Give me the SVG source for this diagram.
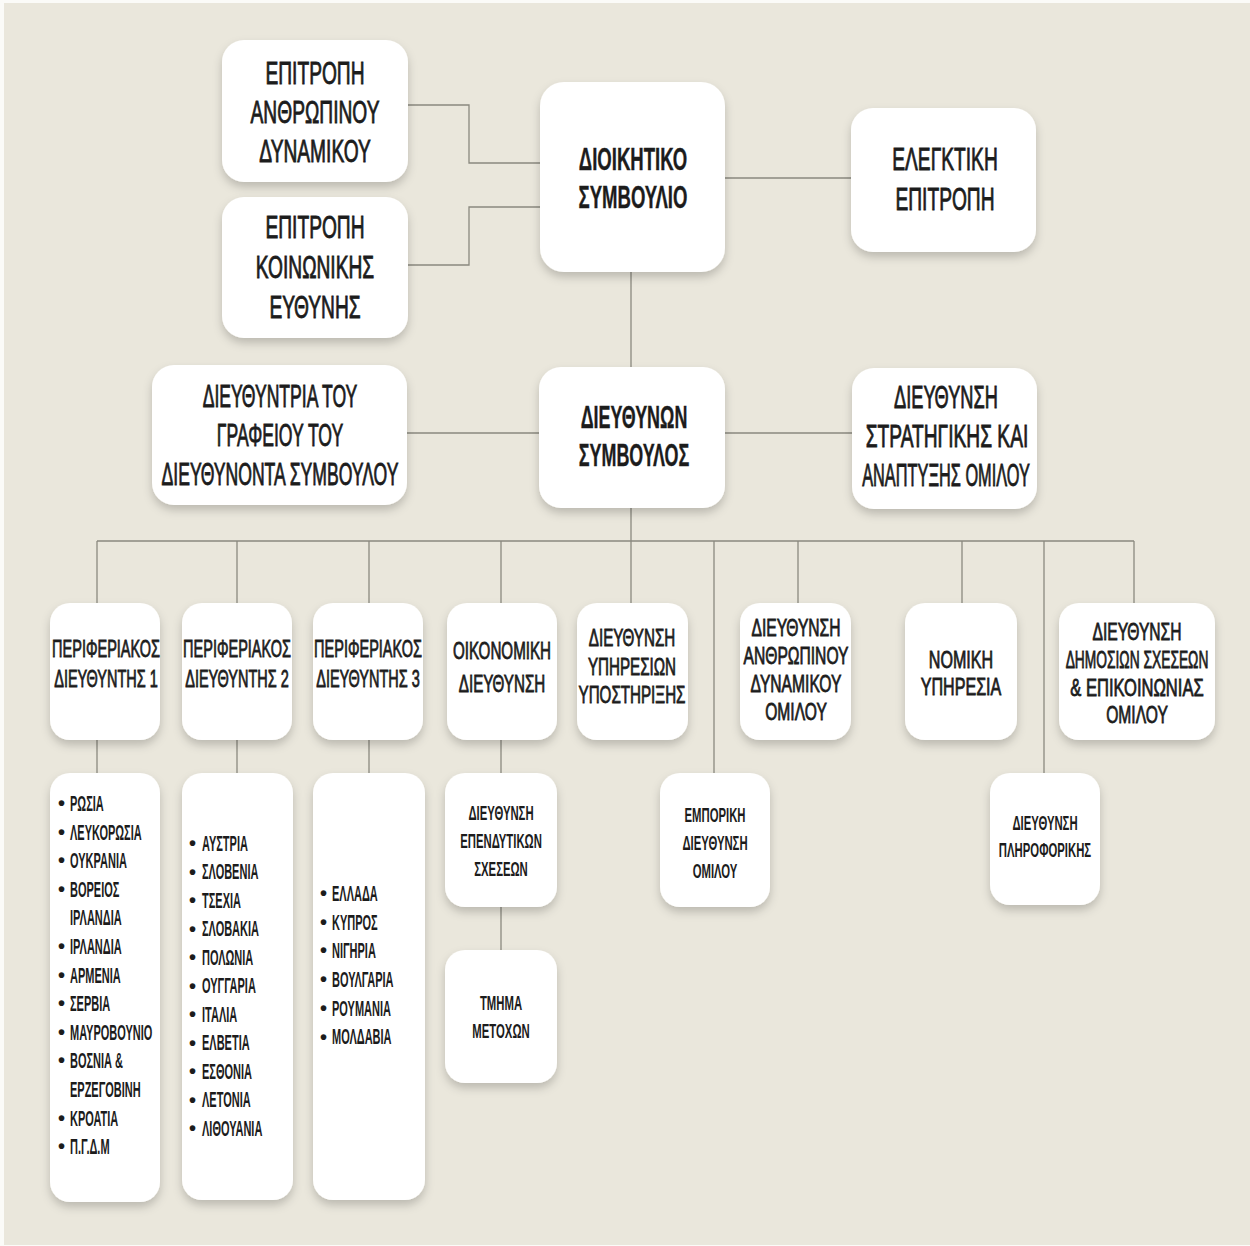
<svg xmlns="http://www.w3.org/2000/svg" width="1250" height="1246" viewBox="0 0 1250 1246">
<defs>
<filter id="sh" x="-20%" y="-20%" width="140%" height="150%">
<feDropShadow dx="0" dy="5" stdDeviation="5" flood-color="#000" flood-opacity="0.2"/>
</filter>
<style>
.bx{fill:#fff;filter:url(#sh)}
.ln{stroke:#8a897f;stroke-width:1.3;fill:none}
text{font-family:"Liberation Sans",Arial,sans-serif;fill:#1c1c1c}
.t1{font-size:32px;text-anchor:middle;stroke:#1c1c1c;stroke-width:0.9}
.t1b{font-size:32px;text-anchor:middle;font-weight:bold;stroke:#1c1c1c;stroke-width:0.4}
.t2{font-size:23px;text-anchor:middle;stroke:#1c1c1c;stroke-width:0.8}
.t3{font-size:21px;text-anchor:middle;font-weight:bold}
.li{font-size:22px;font-weight:bold}
.bu{font-size:20px;font-weight:bold}
</style>
</defs>
<rect x="0" y="0" width="1250" height="1246" fill="#fbfbf8"/>
<rect x="4" y="3" width="1246" height="1242" fill="#eae7dc"/>

<g id="connectors" class="ln">
<polyline points="408,105 469,105 469,163 540,163"/>
<polyline points="408,265 469,265 469,207 540,207"/>
<line x1="725" y1="178" x2="851" y2="178"/>
<line x1="631" y1="272" x2="631" y2="367"/>
<line x1="407" y1="433" x2="539" y2="433"/>
<line x1="725" y1="433" x2="852" y2="433"/>
<line x1="631" y1="508" x2="631" y2="541"/>
<line x1="97" y1="541" x2="1134" y2="541"/>
<line x1="97" y1="541" x2="97" y2="603"/>
<line x1="237" y1="541" x2="237" y2="603"/>
<line x1="369" y1="541" x2="369" y2="603"/>
<line x1="501" y1="541" x2="501" y2="603"/>
<line x1="631" y1="541" x2="631" y2="603"/>
<line x1="714" y1="541" x2="714" y2="773"/>
<line x1="798" y1="541" x2="798" y2="603"/>
<line x1="962" y1="541" x2="962" y2="603"/>
<line x1="1044" y1="541" x2="1044" y2="773"/>
<line x1="1134" y1="541" x2="1134" y2="603"/>
<line x1="97" y1="740" x2="97" y2="773"/>
<line x1="237" y1="740" x2="237" y2="773"/>
<line x1="369" y1="740" x2="369" y2="773"/>
<line x1="501" y1="740" x2="501" y2="773"/>
<line x1="501" y1="907" x2="501" y2="950"/>
</g>

<g id="epitropi-anthropinou">
<rect class="bx" x="222" y="40" width="186" height="142" rx="22"/>
<text class="t1" transform="translate(315,0) scale(0.6,1)"><tspan x="0" y="84">ΕΠΙΤΡΟΠΗ</tspan><tspan x="0" y="123">ΑΝΘΡΩΠΙΝΟΥ</tspan><tspan x="0" y="162">ΔΥΝΑΜΙΚΟΥ</tspan></text>
</g>
<g id="epitropi-koinonikis">
<rect class="bx" x="222" y="197" width="186" height="141" rx="22"/>
<text class="t1" transform="translate(315,0) scale(0.6,1)"><tspan x="0" y="238">ΕΠΙΤΡΟΠΗ</tspan><tspan x="0" y="278">ΚΟΙΝΩΝΙΚΗΣ</tspan><tspan x="0" y="318">ΕΥΘΥΝΗΣ</tspan></text>
</g>
<g id="dioikitiko">
<rect class="bx" x="540" y="82" width="185" height="190" rx="24"/>
<text class="t1b" transform="translate(633,0) scale(0.58,1)"><tspan x="0" y="170">ΔΙΟΙΚΗΤΙΚΟ</tspan><tspan x="0" y="208">ΣΥΜΒΟΥΛΙΟ</tspan></text>
</g>
<g id="elegktiki">
<rect class="bx" x="851" y="108" width="185" height="144" rx="22"/>
<text class="t1" transform="translate(945,0) scale(0.6,1)"><tspan x="0" y="170">ΕΛΕΓΚΤΙΚΗ</tspan><tspan x="0" y="210">ΕΠΙΤΡΟΠΗ</tspan></text>
</g>
<g id="grafeio">
<rect class="bx" x="152" y="365" width="255" height="140" rx="22"/>
<text class="t1" transform="translate(280,0) scale(0.55,1)"><tspan x="0" y="407">ΔΙΕΥΘΥΝΤΡΙΑ ΤΟΥ</tspan><tspan x="0" y="446">ΓΡΑΦΕΙΟΥ ΤΟΥ</tspan><tspan x="0" y="485">ΔΙΕΥΘΥΝΟΝΤΑ ΣΥΜΒΟΥΛΟΥ</tspan></text>
</g>
<g id="ceo">
<rect class="bx" x="539" y="367" width="186" height="141" rx="22"/>
<text class="t1b" transform="translate(634,0) scale(0.56,1)"><tspan x="0" y="428">ΔΙΕΥΘΥΝΩΝ</tspan><tspan x="0" y="466">ΣΥΜΒΟΥΛΟΣ</tspan></text>
</g>
<g id="stratigiki">
<rect class="bx" x="852" y="368" width="185" height="141" rx="22"/>
<text class="t1" transform="translate(946,408) scale(0.57,1)">ΔΙΕΥΘΥΝΣΗ</text>
<text class="t1" transform="translate(947,447) scale(0.6,1)">ΣΤΡΑΤΗΓΙΚΗΣ ΚΑΙ</text>
<text class="t1" transform="translate(946,486) scale(0.51,1)">ΑΝΑΠΤΥΞΗΣ ΟΜΙΛΟΥ</text>
</g>

<g id="perif1">
<rect class="bx" x="50" y="603" width="110" height="137" rx="20"/>
<text class="t2" transform="translate(106,0) scale(0.63,1)"><tspan x="0" y="657">ΠΕΡΙΦΕΡΙΑΚΟΣ</tspan><tspan x="0" y="687">ΔΙΕΥΘΥΝΤΗΣ 1</tspan></text>
</g>
<g id="perif2">
<rect class="bx" x="182" y="603" width="110" height="137" rx="20"/>
<text class="t2" transform="translate(237,0) scale(0.63,1)"><tspan x="0" y="657">ΠΕΡΙΦΕΡΙΑΚΟΣ</tspan><tspan x="0" y="687">ΔΙΕΥΘΥΝΤΗΣ 2</tspan></text>
</g>
<g id="perif3">
<rect class="bx" x="313" y="603" width="110" height="137" rx="20"/>
<text class="t2" transform="translate(368,0) scale(0.63,1)"><tspan x="0" y="657">ΠΕΡΙΦΕΡΙΑΚΟΣ</tspan><tspan x="0" y="687">ΔΙΕΥΘΥΝΤΗΣ 3</tspan></text>
</g>
<g id="oikonomiki">
<rect class="bx" x="447" y="603" width="110" height="137" rx="20"/>
<text class="t2" transform="translate(502,0) scale(0.66,1)"><tspan x="0" y="659">ΟΙΚΟΝΟΜΙΚΗ</tspan><tspan x="0" y="692">ΔΙΕΥΘΥΝΣΗ</tspan></text>
</g>
<g id="ypostirixis">
<rect class="bx" x="577" y="603" width="111" height="137" rx="20"/>
<text class="t2" transform="translate(632,0) scale(0.66,1)"><tspan x="0" y="646">ΔΙΕΥΘΥΝΣΗ</tspan><tspan x="0" y="675">ΥΠΗΡΕΣΙΩΝ</tspan><tspan x="0" y="703">ΥΠΟΣΤΗΡΙΞΗΣ</tspan></text>
</g>
<g id="anthropinou-omilou">
<rect class="bx" x="740" y="603" width="111" height="137" rx="20"/>
<text class="t2" transform="translate(796,0) scale(0.68,1)"><tspan x="0" y="636">ΔΙΕΥΘΥΝΣΗ</tspan><tspan x="0" y="664">ΑΝΘΡΩΠΙΝΟΥ</tspan><tspan x="0" y="692">ΔΥΝΑΜΙΚΟΥ</tspan><tspan x="0" y="720">ΟΜΙΛΟΥ</tspan></text>
</g>
<g id="nomiki">
<rect class="bx" x="905" y="603" width="112" height="137" rx="20"/>
<text class="t2" transform="translate(961,0) scale(0.7,1)"><tspan x="0" y="668">ΝΟΜΙΚΗ</tspan><tspan x="0" y="695">ΥΠΗΡΕΣΙΑ</tspan></text>
</g>
<g id="dimosion">
<rect class="bx" x="1059" y="603" width="156" height="137" rx="20"/>
<text class="t2" transform="translate(1137,640) scale(0.68,1)">ΔΙΕΥΘΥΝΣΗ</text>
<text class="t2" transform="translate(1137,668) scale(0.6,1)">ΔΗΜΟΣΙΩΝ ΣΧΕΣΕΩΝ</text>
<text class="t2" transform="translate(1137,696) scale(0.72,1)">&amp; ΕΠΙΚΟΙΝΩΝΙΑΣ</text>
<text class="t2" transform="translate(1137,723) scale(0.68,1)">ΟΜΙΛΟΥ</text>
</g>

<g id="list1">
<rect class="bx" x="50" y="773" width="110" height="429" rx="20"/>
<text class="bu"><tspan x="58" y="810">•</tspan><tspan x="58" y="838.6">•</tspan><tspan x="58" y="867.2">•</tspan><tspan x="58" y="895.8">•</tspan><tspan x="58" y="953">•</tspan><tspan x="58" y="981.6">•</tspan><tspan x="58" y="1010.2">•</tspan><tspan x="58" y="1038.8">•</tspan><tspan x="58" y="1067.4">•</tspan><tspan x="58" y="1124.6">•</tspan><tspan x="58" y="1153.2">•</tspan></text>
<text class="li" transform="translate(70,0) scale(0.5,1)"><tspan x="0" y="811">ΡΩΣΙΑ</tspan><tspan x="0" y="839.6">ΛΕΥΚΟΡΩΣΙΑ</tspan><tspan x="0" y="868.2">ΟΥΚΡΑΝΙΑ</tspan><tspan x="0" y="896.8">ΒΟΡΕΙΟΣ</tspan><tspan x="0" y="925.4">ΙΡΛΑΝΔΙΑ</tspan><tspan x="0" y="954">ΙΡΛΑΝΔΙΑ</tspan><tspan x="0" y="982.6">ΑΡΜΕΝΙΑ</tspan><tspan x="0" y="1011.2">ΣΕΡΒΙΑ</tspan><tspan x="0" y="1039.8">ΜΑΥΡΟΒΟΥΝΙΟ</tspan><tspan x="0" y="1068.4">ΒΟΣΝΙΑ &amp;</tspan><tspan x="0" y="1097">ΕΡΖΕΓΟΒΙΝΗ</tspan><tspan x="0" y="1125.6">ΚΡΟΑΤΙΑ</tspan><tspan x="0" y="1154.2">Π.Γ.Δ.Μ</tspan></text>
</g>
<g id="list2">
<rect class="bx" x="182" y="773" width="111" height="427" rx="20"/>
<text class="bu"><tspan x="189" y="850">•</tspan><tspan x="189" y="878.5">•</tspan><tspan x="189" y="907">•</tspan><tspan x="189" y="935.5">•</tspan><tspan x="189" y="964">•</tspan><tspan x="189" y="992.5">•</tspan><tspan x="189" y="1021">•</tspan><tspan x="189" y="1049.5">•</tspan><tspan x="189" y="1078">•</tspan><tspan x="189" y="1106.5">•</tspan><tspan x="189" y="1135">•</tspan></text>
<text class="li" transform="translate(202,0) scale(0.5,1)"><tspan x="0" y="851">ΑΥΣΤΡΙΑ</tspan><tspan x="0" y="879.5">ΣΛΟΒΕΝΙΑ</tspan><tspan x="0" y="908">ΤΣΕΧΙΑ</tspan><tspan x="0" y="936.5">ΣΛΟΒΑΚΙΑ</tspan><tspan x="0" y="965">ΠΟΛΩΝΙΑ</tspan><tspan x="0" y="993.5">ΟΥΓΓΑΡΙΑ</tspan><tspan x="0" y="1022">ΙΤΑΛΙΑ</tspan><tspan x="0" y="1050.5">ΕΛΒΕΤΙΑ</tspan><tspan x="0" y="1079">ΕΣΘΟΝΙΑ</tspan><tspan x="0" y="1107.5">ΛΕΤΟΝΙΑ</tspan><tspan x="0" y="1136">ΛΙΘΟΥΑΝΙΑ</tspan></text>
</g>
<g id="list3">
<rect class="bx" x="313" y="773" width="112" height="427" rx="20"/>
<text class="bu"><tspan x="320" y="900">•</tspan><tspan x="320" y="928.7">•</tspan><tspan x="320" y="957.4">•</tspan><tspan x="320" y="986.1">•</tspan><tspan x="320" y="1014.8">•</tspan><tspan x="320" y="1043.5">•</tspan></text>
<text class="li" transform="translate(332,0) scale(0.5,1)"><tspan x="0" y="901">ΕΛΛΑΔΑ</tspan><tspan x="0" y="929.7">ΚΥΠΡΟΣ</tspan><tspan x="0" y="958.4">ΝΙΓΗΡΙΑ</tspan><tspan x="0" y="987.1">ΒΟΥΛΓΑΡΙΑ</tspan><tspan x="0" y="1015.8">ΡΟΥΜΑΝΙΑ</tspan><tspan x="0" y="1044.5">ΜΟΛΔΑΒΙΑ</tspan></text>
</g>

<g id="ependytikon">
<rect class="bx" x="445" y="773" width="112" height="134" rx="20"/>
<text class="t3" transform="translate(501,0) scale(0.54,1)"><tspan x="0" y="820">ΔΙΕΥΘΥΝΣΗ</tspan><tspan x="0" y="848">ΕΠΕΝΔΥΤΙΚΩΝ</tspan><tspan x="0" y="876">ΣΧΕΣΕΩΝ</tspan></text>
</g>
<g id="metoxon">
<rect class="bx" x="445" y="950" width="112" height="133" rx="20"/>
<text class="t3" transform="translate(501,0) scale(0.54,1)"><tspan x="0" y="1010">ΤΜΗΜΑ</tspan><tspan x="0" y="1038">ΜΕΤΟΧΩΝ</tspan></text>
</g>
<g id="emporiki">
<rect class="bx" x="660" y="773" width="110" height="134" rx="20"/>
<text class="t3" transform="translate(715,0) scale(0.54,1)"><tspan x="0" y="822">ΕΜΠΟΡΙΚΗ</tspan><tspan x="0" y="850">ΔΙΕΥΘΥΝΣΗ</tspan><tspan x="0" y="878">ΟΜΙΛΟΥ</tspan></text>
</g>
<g id="pliroforikis">
<rect class="bx" x="990" y="773" width="110" height="132" rx="20"/>
<text class="t3" transform="translate(1045,0) scale(0.54,1)"><tspan x="0" y="830">ΔΙΕΥΘΥΝΣΗ</tspan><tspan x="0" y="857">ΠΛΗΡΟΦΟΡΙΚΗΣ</tspan></text>
</g>
</svg>
